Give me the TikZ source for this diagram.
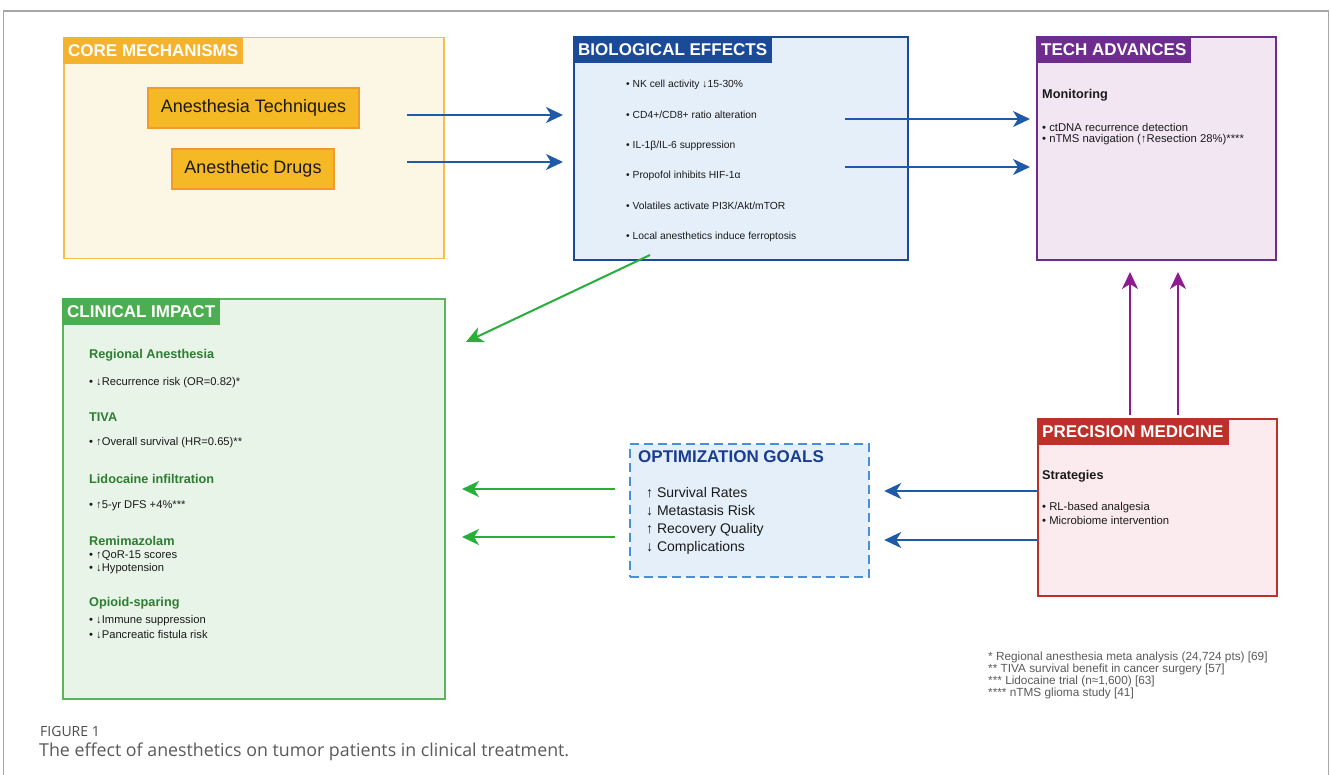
\documentclass[tikz,border=0pt]{standalone}
\usepackage{fontspec}
\setmainfont{Liberation Sans}
\newfontfamily\capfont{Open Sans}
\usetikzlibrary{arrows.meta}
\definecolor{coreFill}{HTML}{FCF6E4}
\definecolor{coreBorder}{HTML}{F6BE4F}
\definecolor{coreTab}{HTML}{F4B22E}
\definecolor{inFill}{HTML}{F4B924}
\definecolor{inBorder}{HTML}{EE9A2E}
\definecolor{bioFill}{HTML}{E4EFF9}
\definecolor{bioDark}{HTML}{1B4A99}
\definecolor{techFill}{HTML}{F3E6F3}
\definecolor{techDark}{HTML}{6D2C8E}
\definecolor{clinFill}{HTML}{E8F4E8}
\definecolor{clinBorder}{HTML}{5BB55E}
\definecolor{clinTab}{HTML}{4CAE50}
\definecolor{clinHead}{HTML}{2E7D32}
\definecolor{optBorder}{HTML}{4A8FD6}
\definecolor{optTitle}{HTML}{1A3D8F}
\definecolor{precFill}{HTML}{FCEBEE}
\definecolor{precDark}{HTML}{BE302A}
\definecolor{arrBlue}{HTML}{1F5AA6}
\definecolor{arrGreen}{HTML}{27AE3B}
\definecolor{arrPurple}{HTML}{8E1C8E}
\definecolor{txt}{HTML}{1A1A1A}
\definecolor{capgray}{HTML}{5A5A5A}
\begin{document}
\begin{tikzpicture}[x=1pt,y=-1pt,
  panel/.style={anchor=north west, inner sep=0pt, line width=2pt},
  tab/.style={anchor=north west, inner xsep=5pt, inner ysep=0pt, minimum height=27pt, text=white,
    font=\fontsize{17}{20}\selectfont\bfseries},
  inbox/.style={draw=inBorder, fill=inFill, line width=1.2pt, inner sep=0pt, minimum height=40pt,
    font=\fontsize{18}{21}\selectfont, text=txt},
  bitem/.style={anchor=west, inner sep=0pt, font=\fontsize{10.3}{12}\selectfont, text=txt},
  titem/.style={anchor=west, inner sep=0pt, font=\fontsize{11.3}{13}\selectfont, text=txt},
  thead/.style={anchor=west, inner sep=0pt, font=\fontsize{12.7}{15}\selectfont\bfseries, text=txt},
  chead/.style={anchor=west, inner sep=0pt, font=\fontsize{12.7}{15}\selectfont\bfseries, text=clinHead},
  citem/.style={anchor=west, inner sep=0pt, font=\fontsize{11.2}{13}\selectfont, text=txt},
  oitem/.style={anchor=west, inner sep=0pt, font=\fontsize{14}{16}\selectfont, text=txt},
  fnote/.style={anchor=west, inner sep=0pt, font=\fontsize{11.8}{12}\selectfont, text=capgray},
  arr/.style={line width=2pt, -{Stealth[length=17pt,width=16pt,inset=5pt]}},
  barrow/.style={arr, draw=arrBlue, fill=arrBlue},
  garrow/.style={arr, draw=arrGreen, fill=arrGreen},
  parrow/.style={arr, draw=arrPurple, fill=arrPurple}
]
\useasboundingbox (0,0) rectangle (1331,775);
\fill[white] (0,0) rectangle (1331,775);
% outer frame
\draw[gray!70, line width=1.4pt] (3.5,775) -- (3.5,11) -- (1328.5,11) -- (1328.5,775);

% CORE MECHANISMS
\node[panel, draw=coreBorder, fill=coreFill, line width=1.5pt, minimum width=380pt, minimum height=221pt] (core) at (63,37) {};
\node[tab, fill=coreTab] (coreT) at (core.north west) {CORE MECHANISMS};
\node[inbox, minimum width=211pt] (tech) at (253.5,108) {Anesthesia Techniques};
\node[inbox, minimum width=162pt] (drug) at (253,169) {Anesthetic Drugs};

% BIOLOGICAL EFFECTS
\node[panel, draw=bioDark, fill=bioFill, minimum width=334pt, minimum height=223pt] (bio) at (573,36) {};
\node[tab, fill=bioDark] (bioT) at (bio.north west) {BIOLOGICAL EFFECTS};
\node[bitem] (b1) at (626,85) {• NK cell activity ↓15-30\%};
\node[bitem] (b2) at (626,115) {• CD4+/CD8+ ratio alteration};
\node[bitem] (b3) at (626,146) {• IL-1β/IL-6 suppression};
\node[bitem] (b4) at (626,176) {• Propofol inhibits HIF-1α};
\node[bitem] (b5) at (626,206) {• Volatiles activate PI3K/Akt/mTOR};
\node[bitem] (b6) at (626,237) {• Local anesthetics induce ferroptosis};

% TECH ADVANCES
\node[panel, draw=techDark, fill=techFill, minimum width=239pt, minimum height=223pt] (adv) at (1036,36) {};
\node[tab, fill=techDark] (advT) at (adv.north west) {TECH ADVANCES};
\node[thead] (t0) at (1042,95) {Monitoring};
\node[titem] (t1) at (1042,127) {• ctDNA recurrence detection};
\node[titem] (t2) at (1042,139.5) {• nTMS navigation (↑Resection 28\%)****};

% CLINICAL IMPACT
\node[panel, draw=clinBorder, fill=clinFill, minimum width=382pt, minimum height=400pt] (clin) at (62,298) {};
\node[tab, fill=clinTab] (clinT) at (clin.north west) {CLINICAL IMPACT};
\node[chead] (h1) at (89,355) {Regional Anesthesia};
\node[citem] (i1) at (89,383) {• ↓Recurrence risk (OR=0.82)*};
\node[chead] (h2) at (89,417) {TIVA};
\node[citem] (i2) at (89,443) {• ↑Overall survival (HR=0.65)**};
\node[chead] (h3) at (89,479) {Lidocaine infiltration};
\node[citem] (i3) at (89,506) {• ↑5-yr DFS +4\%***};
\node[chead] (h4) at (89,541) {Remimazolam};
\node[citem] (i4) at (89,556) {• ↑QoR-15 scores};
\node[citem] (i5) at (89,568.5) {• ↓Hypotension};
\node[chead] (h5) at (89,603) {Opioid-sparing};
\node[citem] (i6) at (89,621) {• ↓Immune suppression};
\node[citem] (i7) at (89,634.5) {• ↓Pancreatic fistula risk};

% OPTIMIZATION GOALS
\node[panel, draw=optBorder, fill=bioFill, line width=2.2pt, dash pattern=on 9pt off 5pt, minimum width=239pt, minimum height=133pt] (opt) at (629,443) {};
\node[anchor=west, inner sep=0pt, font=\fontsize{17}{20}\selectfont\bfseries, text=optTitle] (optT) at (638,457) {OPTIMIZATION GOALS};
\node[oitem] (o1) at (646,492.5) {↑ Survival Rates};
\node[oitem] (o2) at (646,511) {↓ Metastasis Risk};
\node[oitem] (o3) at (646,529.5) {↑ Recovery Quality};
\node[oitem] (o4) at (646,548) {↓ Complications};

% PRECISION MEDICINE
\node[panel, draw=precDark, fill=precFill, minimum width=239pt, minimum height=177pt] (prec) at (1037,418) {};
\node[tab, fill=precDark] (precT) at (prec.north west) {PRECISION MEDICINE};
\node[thead] (p0) at (1042,476) {Strategies};
\node[titem] (p1) at (1042,507.5) {• RL-based analgesia};
\node[titem] (p2) at (1042,520.5) {• Microbiome intervention};

% footnotes
\node[fnote] (f1) at (988,657) {* Regional anesthesia meta analysis (24,724 pts) [69]};
\node[fnote] (f2) at (988,669) {** TIVA survival benefit in cancer surgery [57]};
\node[fnote] (f3) at (988,681) {*** Lidocaine trial (n≈1,600) [63]};
\node[fnote] (f4) at (988,693) {**** nTMS glioma study [41]};

% caption
\node[anchor=west, inner sep=0pt, font=\capfont\fontsize{14}{16}\selectfont, text=black!70] (figl) at (40,731) {FIGURE 1};
\node[anchor=west, inner sep=0pt, font=\capfont\fontsize{17.8}{20}\selectfont, text=capgray] (figc) at (39,752) {The effect of anesthetics on tumor patients in clinical treatment.};

% connector start points
\coordinate (s1) at (407,115);
\coordinate (s2) at (407,162);
\coordinate (s3) at (845,119);
\coordinate (s4) at (845,167);
\coordinate (s5) at (650,255);
\coordinate (e5) at (466,342);
\coordinate (s6) at (1130,418);
\coordinate (s7) at (1178,418);
\coordinate (y1) at (0,489);
\coordinate (y2) at (0,537);
\coordinate (y3) at (0,491);
\coordinate (y4) at (0,540);

% connectors
\draw[barrow, shorten >=10pt] (s1) -- (s1 -| bio.west);
\draw[barrow, shorten >=10pt] (s2) -- (s2 -| bio.west);
\draw[barrow, shorten >=6pt] (s3) -- (s3 -| adv.west);
\draw[barrow, shorten >=6pt] (s4) -- (s4 -| adv.west);
\draw[garrow] (s5) -- (e5);
\draw[garrow, shorten <=14pt, shorten >=16pt] (y1 -| opt.west) -- (y1 -| clin.east);
\draw[garrow, shorten <=14pt, shorten >=16pt] (y2 -| opt.west) -- (y2 -| clin.east);
\draw[barrow, shorten >=14pt] (y3 -| prec.west) -- (y3 -| opt.east);
\draw[barrow, shorten >=14pt] (y4 -| prec.west) -- (y4 -| opt.east);
\draw[parrow, shorten <=3pt, shorten >=11pt] (s6) -- (s6 |- adv.south);
\draw[parrow, shorten <=3pt, shorten >=11pt] (s7) -- (s7 |- adv.south);
\end{tikzpicture}
\end{document}
